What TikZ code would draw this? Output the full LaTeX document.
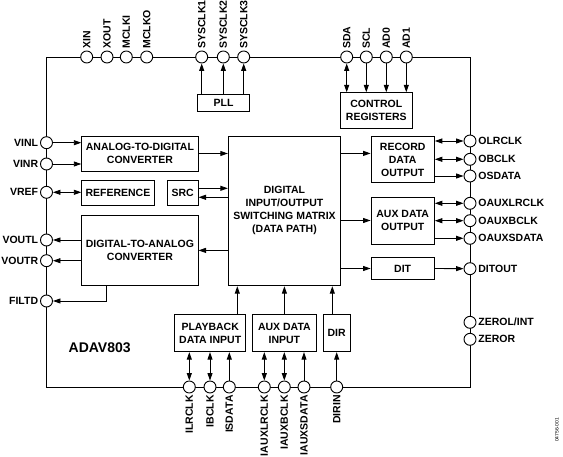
\documentclass[tikz,border=0pt]{standalone}
\usepackage{fontspec}
\setmainfont{Liberation Sans}
\usetikzlibrary{
  arrows.meta,
}

\tikzset{
  pincirc/.style={circle,draw,fill=white,minimum size=12pt,inner sep=0pt},
  blockbox/.style={draw,align=center,inner sep=0pt},
  pinname/.style={inner sep=1.5pt},
  onearrow/.style={-{Triangle[length=7.5pt,width=5pt]}},
  twoarrow/.style={{Triangle[length=7.5pt,width=5pt]}-{Triangle[length=7.5pt,width=5pt]}},
}

\begin{document}
\begin{tikzpicture}[x=1pt,y=-1pt,line width=0.9pt,font=\fontsize{10.5}{13}\selectfont\bfseries]
\useasboundingbox (0,0) rectangle (563,457);
% chip outline
\draw (46.5,57) rectangle (470,387);
% pins
\foreach \n/\x/\t in {xin/86.7/XIN,xout/107/XOUT,mclki/126.3/MCLKI,mclko/146.7/MCLKO,sysclk1/201.7/SYSCLK1,sysclk2/223.3/SYSCLK2,sysclk3/243.7/SYSCLK3,sda/346.7/SDA,scl/366.3/SCL,ad0/386.3/AD0,ad1/406.3/AD1}
{
  \node[pincirc] (\n) at (\x,57) {};
  \node[pinname,rotate=90,anchor=west] (\n-t) at (\n.north) {\t};
}
\foreach \n/\y/\t in {vinl/142.7/VINL,vinr/164/VINR,vref/192.3/VREF,voutl/240/VOUTL,voutr/260.7/VOUTR,filtd/301/FILTD}
{
  \node[pincirc] (\n) at (46.5,\y) {};
  \node[pinname,anchor=east] (\n-t) at (\n.west) {\t};
}
\foreach \n/\y/\t in {olrclk/141/OLRCLK,obclk/159.3/OBCLK,osdata/176/OSDATA,oauxlrclk/203.3/OAUXLRCLK,oauxbclk/220.7/OAUXBCLK,oauxsdata/238.3/OAUXSDATA,ditout/268.7/DITOUT}
{
  \node[pincirc] (\n) at (470,\y) {};
  \node[pinname,anchor=west] (\n-t) at (\n.east) {\t};
}
\node[pincirc] (zerol) at (470,322.3) {};
\node[pinname,anchor=west] (zerol-t) at (zerol.east) {ZEROL/INT};
\node[pincirc] (zeror) at (470,339.3) {};
\node[pinname,anchor=west] (zeror-t) at (zeror.east) {ZEROR};
\foreach \n/\x/\t in {ilrclk/189.3/ILRCLK,ibclk/210/IBCLK,isdata/229.3/ISDATA,iauxlrclk/264.3/IAUXLRCLK,iauxbclk/284.3/IAUXBCLK,iauxsdata/304/IAUXSDATA,dirin/336.7/DIRIN}
{
  \node[pincirc] (\n) at (\x,387) {};
  \node[pinname,rotate=90,anchor=east] (\n-t) at (\n.south) {\t};
}
% blocks
\node[blockbox,minimum width=51.6pt,minimum height=17pt] (pll) at (223.5,102.5) {PLL};
\node[blockbox,minimum width=72pt,minimum height=35.3pt] (ctrl) at (376.3,110.4) {CONTROL\\REGISTERS};
\node[blockbox,minimum width=116.3pt,minimum height=35pt] (adc) at (139.9,153.5) {ANALOG-TO-DIGITAL\\CONVERTER};
\node[blockbox,minimum width=72.3pt,minimum height=24.6pt] (ref) at (117.9,193) {REFERENCE};
\node[blockbox,minimum width=30.7pt,minimum height=24.6pt] (src) at (182.7,193) {SRC};
\node[blockbox,minimum width=116.3pt,minimum height=70.7pt] (dac) at (139.9,250.4) {DIGITAL-TO-ANALOG\\CONVERTER};
\node[blockbox,minimum width=112.4pt,minimum height=149.7pt] (matrix) at (284.5,210.9) {DIGITAL\\INPUT/OUTPUT\\SWITCHING MATRIX\\(DATA PATH)};
\node[blockbox,minimum width=63.3pt,minimum height=46.7pt] (rec) at (402.7,159.4) {RECORD\\DATA\\OUTPUT};
\node[blockbox,minimum width=63.3pt,minimum height=47pt] (auxout) at (402.7,220.5) {AUX DATA\\OUTPUT};
\node[blockbox,minimum width=63.3pt,minimum height=21.6pt] (dit) at (402.7,268.5) {DIT};
\node[blockbox,minimum width=71pt,minimum height=37pt] (play) at (210.2,333.2) {PLAYBACK\\DATA INPUT};
\node[blockbox,minimum width=63.3pt,minimum height=37pt] (auxin) at (284.4,333.2) {AUX DATA\\INPUT};
\node[blockbox,minimum width=26.7pt,minimum height=37pt] (dir) at (336.7,333.2) {DIR};
\node[font=\fontsize{14}{16}\selectfont\bfseries] (chip) at (99.7,347.3) {ADAV803};
\node[font=\fontsize{5}{6}\selectfont,rotate=90] (fig) at (557,430) {04756-001};
% top connections
\foreach \n in {sysclk1,sysclk2,sysclk3}
  \draw[onearrow] (pll.north -| \n) -- (\n);
\draw[twoarrow] (sda) -- (sda |- ctrl.north);
\foreach \n in {scl,ad0,ad1}
  \draw[onearrow] (\n) -- (\n |- ctrl.north);
% left side
\draw[onearrow] (vinl) -- (vinl -| adc.west);
\draw[onearrow] (vinr) -- (vinr -| adc.west);
\draw[twoarrow] (vref) -- (vref -| ref.west);
\draw[onearrow] (voutl -| dac.west) -- (voutl);
\draw[onearrow] (voutr -| dac.west) -- (voutr);
\draw[onearrow] ([xshift=-33pt]dac.south) |- (filtd);
\draw[onearrow] (adc.east) -- (adc.east -| matrix.west);
\draw[onearrow] ([yshift=4.7pt]src.east) -- ([yshift=4.7pt]src.east -| matrix.west);
\draw[onearrow] ([yshift=-4.3pt]src.east -| matrix.west) -- ([yshift=-4.3pt]src.east);
\draw[onearrow] (matrix.west |- dac.east) -- (dac.east);
% right side
\draw[onearrow] ([yshift=6pt]rec.west -| matrix.east) -- ([yshift=6pt]rec.west);
\draw[onearrow] (matrix.east |- auxout.west) -- (auxout.west);
\draw[onearrow] (matrix.east |- dit.west) -- (dit.west);
\draw[twoarrow] (rec.east |- olrclk) -- (olrclk);
\draw[twoarrow] (rec.east |- obclk) -- (obclk);
\draw[onearrow] (rec.east |- osdata) -- (osdata);
\draw[twoarrow] (auxout.east |- oauxlrclk) -- (oauxlrclk);
\draw[twoarrow] (auxout.east |- oauxbclk) -- (oauxbclk);
\draw[onearrow] (auxout.east |- oauxsdata) -- (oauxsdata);
\draw[onearrow] (dit.east) -- (ditout);
% bottom
\draw[onearrow] ([xshift=27.1pt]play.north) -- ([xshift=27.1pt]play.north |- matrix.south);
\draw[onearrow] (auxin.north) -- (auxin.north |- matrix.south);
\draw[onearrow] ([xshift=-4.4pt]dir.north) -- ([xshift=-4.4pt]dir.north |- matrix.south);
\draw[twoarrow] (play.south -| ilrclk) -- (ilrclk);
\draw[twoarrow] (play.south -| ibclk) -- (ibclk);
\draw[onearrow] (isdata) -- (isdata |- play.south);
\draw[twoarrow] (auxin.south -| iauxlrclk) -- (iauxlrclk);
\draw[twoarrow] (auxin.south -| iauxbclk) -- (iauxbclk);
\draw[onearrow] (iauxsdata) -- (iauxsdata |- auxin.south);
\draw[onearrow] (dirin) -- (dirin |- dir.south);
\end{tikzpicture}
\end{document}
